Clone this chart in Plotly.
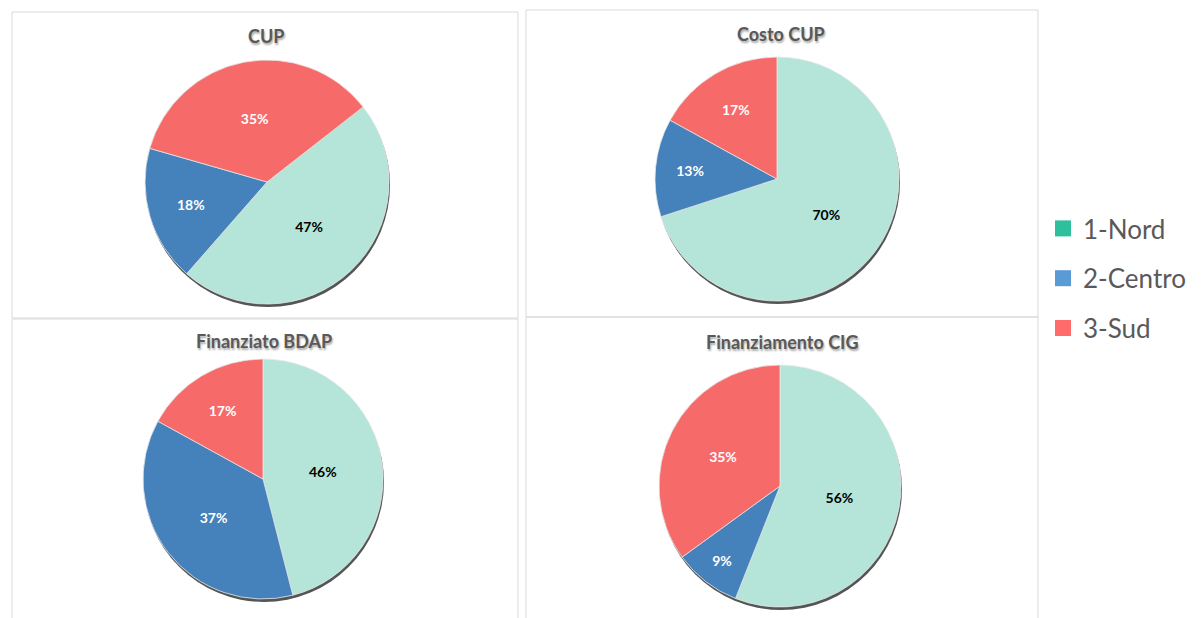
import plotly.graph_objects as go

W, H = 1202, 618

# ---------------- data ----------------
regions = ["1-Nord", "2-Centro", "3-Sud"]
titles = ["CUP", "Costo CUP", "Finanziato BDAP", "Finanziamento CIG"]
cup = [47, 18, 35]
costo_cup = [70, 13, 17]
finanziato_bdap = [46, 37, 17]
finanziamento_cig = [56, 9, 35]
series = [cup, costo_cup, finanziato_bdap, finanziamento_cig]
start_angles = [52, 0, 0, 0]

slice_colors = ["#b4e5d8", "#4581bb", "#f66a6a"]
text_colors = ["#000000", "#ffffff", "#ffffff"]
legend_colors = ["#2ec09c", "#5b9bd5", "#ff6b6b"]

# pie centres / radius in px, panel boxes in px
centres = [(267, 182, 122), (777, 179, 122), (263, 479, 120), (780, 486, 121)]
title_pos = [(266, 36), (781, 34), (264, 341), (782, 342)]
panels = [(12, 12, 518, 318), (526, 10, 1038, 317), (12, 319, 518, 640), (526, 317, 1038, 640)]


def dom(cx, cy, r, dx=0, dy=0):
    return dict(
        x=[(cx - r + dx) / W, (cx + r + dx) / W],
        y=[1 - (cy + r + dy) / H, 1 - (cy - r + dy) / H],
    )


fig = go.Figure()

# ═══════ shadows under the pies ═══════
for (cx, cy, r), vals in zip(centres, series):
    fig.add_trace(go.Pie(
        values=[sum(vals)], labels=["ombra"], domain=dom(cx, cy, r, 1, 3),
        marker=dict(colors=["#555555"]), textinfo="none",
        hoverinfo="skip", showlegend=False, sort=False,
    ))

# ═══════ pies ═══════
for (cx, cy, r), vals, rot in zip(centres, series, start_angles):
    fig.add_trace(go.Pie(
        values=vals, labels=regions, domain=dom(cx, cy, r),
        sort=False, direction="clockwise", rotation=rot,
        marker=dict(colors=slice_colors, line=dict(color="#e8e8e8", width=0.8)),
        texttemplate="%{percent:.0%}", textposition="inside",
        insidetextorientation="horizontal",
        textfont=dict(family="Lato", size=14, color=text_colors, weight="bold"),
        showlegend=False,
    ))

# ═══════ legend ═══════
for name, col in zip(regions, legend_colors):
    fig.add_trace(go.Scatter(
        x=[None], y=[None], mode="markers", name=name,
        marker=dict(symbol="square", size=16, color=col),
        legendgroup=name,
    ))

# ═══════ titles ═══════
for t, (tx, ty) in zip(titles, title_pos):
    fig.add_annotation(
        x=tx / W, y=1 - ty / H, xref="paper", yref="paper",
        xanchor="center", yanchor="middle",
        text=f"<b>{t}</b>", showarrow=False,
        font=dict(family="Lato", size=18, color="#595959", shadow="1px 2px 2px #aaaaaa"),
    )

# ═══════ panel borders ═══════
for x0, y0, x1, y1 in panels:
    fig.add_shape(
        type="rect", xref="paper", yref="paper",
        x0=x0 / W, x1=x1 / W, y0=1 - y1 / H, y1=1 - y0 / H,
        line=dict(color="#d9d9d9", width=1), fillcolor="rgba(0,0,0,0)",
        layer="below",
    )

fig.update_layout(
    width=W, height=H,
    margin=dict(l=0, r=0, t=0, b=0),
    paper_bgcolor="white", plot_bgcolor="white",
    xaxis=dict(visible=False), yaxis=dict(visible=False),
    legend=dict(
        x=0.8677, y=1 - 205 / H, xanchor="left", yanchor="top",
        font=dict(family="Lato", size=26, color="#595959"),
        traceorder="grouped", tracegroupgap=13,
        bgcolor="rgba(0,0,0,0)",
    ),
    font=dict(family="Lato"),
)

fig.write_html(
    "out.html",
    config={"displayModeBar": False},
    post_script="document.body.style.margin='0';",
)
